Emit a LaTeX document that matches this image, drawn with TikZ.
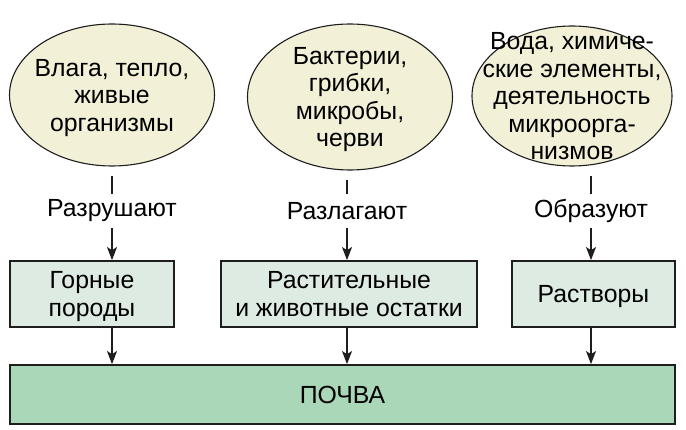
\documentclass[tikz,border=0pt]{standalone}
\usepackage{fontspec}
\setmainfont{Liberation Sans}
\usepackage{xcolor}
\usetikzlibrary{arrows.meta,shapes.geometric}

\definecolor{ellfill}{HTML}{F2F0D6}
\definecolor{boxfill}{HTML}{DDEBE2}
\definecolor{soilfill}{HTML}{A9D7B7}
\definecolor{ink}{HTML}{1E1E1E}

\begin{document}
\begin{tikzpicture}[x=1pt,y=-1pt,>={Stealth[length=13pt,width=10pt,inset=3pt]},
    font=\fontsize{24.8}{27.5}\selectfont,
    cloud/.style={ellipse,draw=ink,line width=1.1pt,fill=ellfill,align=center,
        inner xsep=-30pt,inner ysep=-35pt,text depth=0pt},
    verb/.style={inner sep=0pt,minimum height=34pt},
    thing/.style={rectangle,draw=ink,line width=1.8pt,fill=boxfill,align=center,
        minimum height=66pt,inner sep=0pt,text depth=0pt},
    link/.style={draw=ink,line width=1.3pt}]
    \useasboundingbox (0,0) rectangle (686,430);
    % causes
    \node[cloud,minimum width=205pt,minimum height=142pt] (ell1) at (112,95)
        {Влага, тепло,\\живые\\организмы};
    \node[cloud,minimum width=205pt,minimum height=146pt] (ell2) at (350,97)
        {Бактерии,\\грибки,\\микробы,\\черви};
    \node[cloud,minimum width=200pt,minimum height=140pt] (ell3) at (572,96)
        {Вода, химиче-\\ские элементы,\\деятельность\\микроорга-\\низмов};
    % actions
    \node[verb] (lab1) at (112,211) {Разрушают};
    \node[verb] (lab2) at (347,211) {Разлагают};
    \node[verb] (lab3) at (591,211) {Образуют};
    % results
    \node[thing,minimum width=164pt] (box1) at (92,294) {Горные\\породы};
    \node[thing,minimum width=256pt] (box2) at (349,294) {Растительные\\и животные остатки};
    \node[thing,minimum width=163pt] (box3) at (593.5,294) {Растворы};
    \node[thing,fill=soilfill,minimum width=665pt,minimum height=59pt] (soil) at (342.5,394.5) {ПОЧВА};
    \foreach \i in {1,2,3}{
        \draw[link,shorten <=9pt] (ell\i.south -| lab\i) -- (lab\i);
        \draw[link,->] (lab\i) -- (lab\i |- box\i.north);
        \draw[link,->] (box\i.south -| lab\i) -- (lab\i |- soil.north);
    }
\end{tikzpicture}
\end{document}
